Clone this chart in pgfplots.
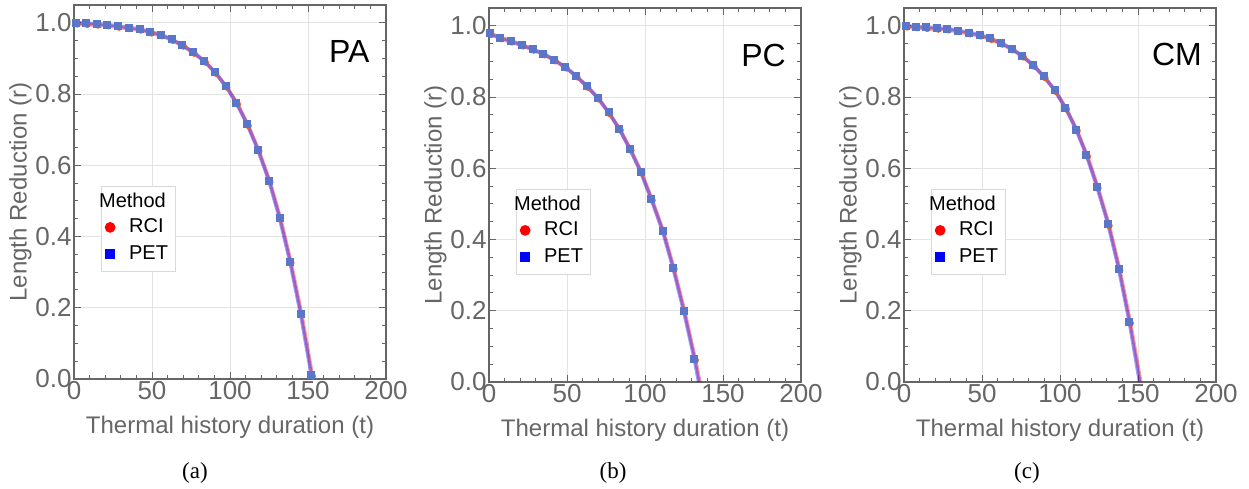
\documentclass[border=0pt]{standalone}
\usepackage{fontspec}
\setmainfont{Liberation Sans}
\newfontfamily\capfont{Liberation Serif}
\usepackage{pgfplots}
\pgfplotsset{compat=1.18}
\usepackage{pgfplotstable}

\definecolor{framec}{HTML}{666666}
\definecolor{labc}{HTML}{666666}
\definecolor{gridc}{HTML}{E3E3E3}
\definecolor{rcimk}{HTML}{E8661F}
\definecolor{petmk}{HTML}{5B75C8}

% PET readings (t, r); RCI sits a hair to the right/below
\pgfplotstableread{
t r
1.3 1.000
7.7 0.999
14.6 0.997
21.4 0.995
28.1 0.991
34.9 0.987
42.0 0.983
48.8 0.975
55.7 0.967
62.5 0.954
69.4 0.938
76.3 0.918
83.5 0.893
90.2 0.862
97.2 0.823
104.1 0.775
111.0 0.715
117.8 0.644
124.9 0.557
131.7 0.453
138.4 0.330
145.2 0.184
152.1 0.012
}\petA
\pgfplotstableread{
t r
2.1 0.996
8.5 0.995
15.4 0.993
22.2 0.991
28.9 0.987
35.7 0.983
42.8 0.979
49.6 0.971
56.5 0.963
63.3 0.950
70.2 0.934
77.1 0.914
84.3 0.889
91.0 0.858
98.0 0.819
104.9 0.771
111.8 0.711
118.6 0.640
125.7 0.553
132.5 0.449
139.2 0.326
146.0 0.180
152.9 0.008
}\rciA
\pgfplotstableread{
t r
0.6 0.979
7.1 0.967
14.0 0.958
21.1 0.947
27.9 0.935
34.8 0.922
41.7 0.905
48.8 0.885
55.7 0.860
62.6 0.831
69.7 0.798
76.6 0.757
83.4 0.711
90.3 0.654
97.2 0.590
103.9 0.514
111.2 0.425
117.9 0.321
124.7 0.201
131.6 0.065
}\petB
\pgfplotstableread{
t r
1.4 0.975
7.9 0.963
14.8 0.954
21.9 0.943
28.7 0.931
35.6 0.918
42.5 0.901
49.6 0.881
56.5 0.856
63.4 0.827
70.5 0.794
77.4 0.753
84.2 0.707
91.1 0.650
98.0 0.586
104.7 0.510
112.0 0.421
118.7 0.317
125.5 0.197
132.4 0.061
}\rciB
\pgfplotstableread{
t r
1.3 1.000
7.5 0.998
14.1 0.996
21.2 0.994
27.8 0.992
34.6 0.987
41.7 0.981
48.5 0.975
55.3 0.965
62.2 0.952
69.0 0.936
75.8 0.916
82.7 0.890
89.7 0.858
96.6 0.819
103.4 0.770
110.3 0.709
116.9 0.637
123.7 0.548
130.8 0.443
137.6 0.318
144.4 0.169
}\petC
\pgfplotstableread{
t r
2.1 0.996
8.3 0.994
14.9 0.992
22.0 0.990
28.6 0.988
35.4 0.983
42.5 0.977
49.3 0.971
56.1 0.961
63.0 0.948
69.8 0.932
76.6 0.912
83.5 0.886
90.5 0.854
97.4 0.815
104.2 0.766
111.1 0.705
117.7 0.633
124.5 0.544
131.6 0.439
138.4 0.314
145.2 0.165
}\rciC

\pgfplotsset{
  panel/.style={
    scale only axis, width=156pt, height=187pt,
    xmin=0, xmax=200, ymin=0, ymax=1.05,
    xtick={0,50,100,150,200}, ytick={0,0.2,0.4,0.6,0.8,1.0},
    minor x tick num=4, minor y tick num=3,
    grid=major, major grid style={gridc, line width=0.5pt},
    axis line style={framec, line width=0.8pt},
    every tick/.style={framec, line width=0.5pt},
    major tick length=3.5pt, minor tick length=2pt,
    /pgf/number format/assume math mode=true,
    tick label style={font=\fontsize{13}{15}\selectfont, text=labc, inner sep=1pt},
    yticklabel style={/pgf/number format/fixed, /pgf/number format/fixed zerofill, /pgf/number format/precision=1},
    label style={font=\fontsize{12}{14}\selectfont, text=labc},
    xlabel={Thermal history duration (t)},
    ylabel={Length Reduction (r)},
    xlabel style={at={(axis description cs:0.5,-0.13)}, anchor=center},
    ylabel style={at={(axis description cs:-0.172,0.5)}, anchor=center},
    legend style={at={(0.087,0.516)}, anchor=north west, draw=gray!30,
      font=\fontsize{10}{12}\selectfont, row sep=0pt, inner sep=1.5pt},
    legend cell align=left,
    clip mode=individual,
  },
  rci line/.style={red, opacity=0.38, line width=1.8pt},
  pet line/.style={blue, opacity=0.38, line width=1.8pt},
  rci marks/.style={only marks, mark=*, mark size=1.5pt, color=rcimk},
  pet marks/.style={only marks, mark=square*, mark size=1.75pt, color=petmk},
}

\newcommand{\methodlegend}{%
  \addlegendimage{empty legend}\addlegendentry{\hspace*{-15pt}Method}
  \addlegendimage{legend image code/.code={\fill[red, draw=none] (0pt,0pt) circle (2.7pt);
    \path[draw=none, fill=none] (-2.8pt,-4pt) rectangle (7.5pt,4pt);}}
  \addlegendentry{RCI}
  \addlegendimage{legend image code/.code={\fill[blue, draw=none] (-2.6pt,-2.6pt) rectangle (2.6pt,2.6pt);
    \path[draw=none, fill=none] (-2.8pt,-7.5pt) rectangle (7.5pt,7pt);}}
  \addlegendentry{PET}
}

\begin{document}
\begin{tikzpicture}
\path[use as bounding box] (0,0) rectangle (624.5pt,244pt);

% (a) PA
\begin{axis}[panel, at={(37pt,54.5pt)}, anchor=south west]
\addplot[rci line, forget plot] table {\rciA} -- (axis cs:152.9,0);
\addplot[pet line, forget plot] table {\petA};
\addplot[rci marks, forget plot] table {\rciA};
\addplot[pet marks, forget plot] table {\petA};
\methodlegend
\node[font=\fontsize{16}{18}\selectfont] at (axis cs:176.5,0.92) {PA};
\end{axis}

% (b) PC
\begin{axis}[panel, at={(244.5pt,53pt)}, anchor=south west]
\addplot[rci line, forget plot] table {\rciB} -- (axis cs:135.2,0);
\addplot[pet line, forget plot] table {\petB} -- (axis cs:134.4,0);
\addplot[rci marks, forget plot] table {\rciB};
\addplot[pet marks, forget plot] table {\petB};
\methodlegend
\node[font=\fontsize{16}{18}\selectfont] at (axis cs:176,0.918) {PC};
\end{axis}

% (c) CM
\begin{axis}[panel, at={(452pt,53pt)}, anchor=south west]
\addplot[rci line, forget plot] table {\rciC} -- (axis cs:151.8,0);
\addplot[pet line, forget plot] table {\petC} -- (axis cs:151.0,0);
\addplot[rci marks, forget plot] table {\rciC};
\addplot[pet marks, forget plot] table {\petC};
\methodlegend
\node[font=\fontsize{16}{18}\selectfont] at (axis cs:175,0.92) {CM};
\end{axis}

\node[font=\capfont\fontsize{11.5}{13}\selectfont] at (97.5pt,7.5pt) {(a)};
\node[font=\capfont\fontsize{11.5}{13}\selectfont] at (306.5pt,7.5pt) {(b)};
\node[font=\capfont\fontsize{11.5}{13}\selectfont] at (513.5pt,7.5pt) {(c)};
\end{tikzpicture}
\end{document}
